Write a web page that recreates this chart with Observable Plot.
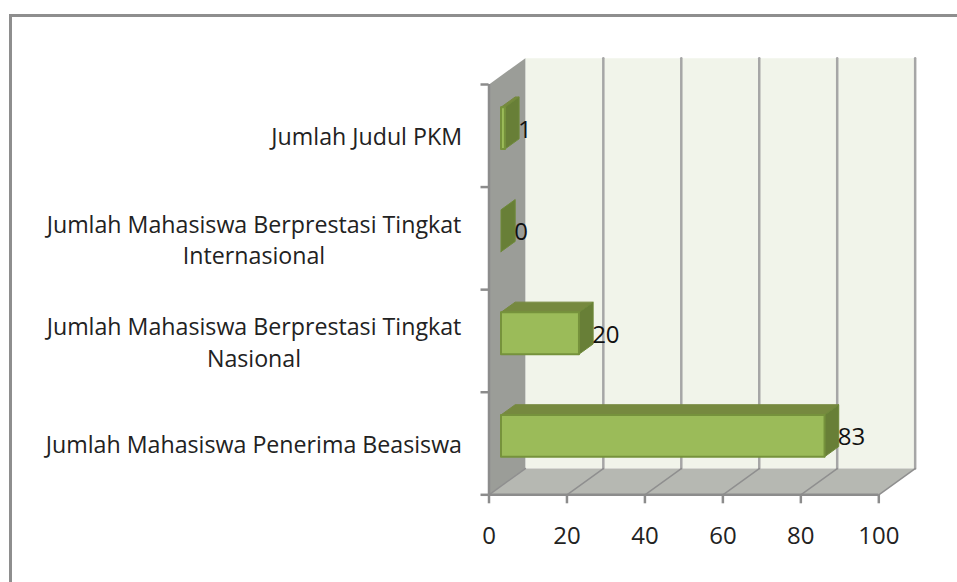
<!DOCTYPE html>
<html>
<head>
<meta charset="utf-8">
<script src="https://cdn.jsdelivr.net/npm/d3@7"></script>
<script src="https://cdn.jsdelivr.net/npm/@observablehq/plot@0.6"></script>
<style>
html,body{margin:0;padding:0;background:#fff;overflow:hidden;}
#wrap{position:relative;width:957px;height:582px;}
#wrap svg{display:block;position:absolute;left:0;top:0;}
#border{position:absolute;left:9px;top:14px;right:0;bottom:0;border-left:3px solid #8e8e8e;border-top:3px solid #8e8e8e;}
</style>
</head>
<body>
<div id="wrap"><div id="border"></div></div>
<script>
// Values, bottom to top
const categories = [
  "Jumlah Mahasiswa Penerima Beasiswa",
  "Jumlah Mahasiswa Berprestasi Tingkat\nNasional",
  "Jumlah Mahasiswa Berprestasi Tingkat\nInternasional",
  "Jumlah Judul PKM"
];
const values = [83, 20, 0, 1];
const xTicks = [0, 20, 40, 60, 80, 100];
const yTicks = [0, 1, 2, 3, 4];

// Oblique depth of the 3D box, in data units of each axis
const depthX = 9.33, depthY = 0.256;
const barFront = 0.33, barBack = 0.72, barHalf = 0.204, barCentre = 0.49;
const xMax = 100, yMax = categories.length;

const pt = (v, u, d) => ({x: v + d * depthX, y: u + d * depthY});
const poly = (id, corners) => [...corners, corners[0]].map(([v, u, d]) => ({id, ...pt(v, u, d)}));

const leftWall = poly("l", [[0,0,0],[0,yMax,0],[0,yMax,1],[0,0,1]]);
const floor = poly("f", [[0,0,0],[xMax,0,0],[xMax,0,1],[0,0,1]]);
const backWall = poly("b", [[0,0,1],[xMax,0,1],[xMax,yMax,1],[0,yMax,1]]);
const gridBack = xTicks.slice(1).flatMap(t => [pt(t,0,1), pt(t,yMax,1)].map(p => ({id:t, ...p})));
const gridFloor = xTicks.map(t => [pt(t,0,0), pt(t,0,1)].map(p => ({id:t, ...p}))).flat();

const fronts = [], tops = [], sides = [];
values.forEach((v, i) => {
  const lo = i + barCentre - barHalf, hi = i + barCentre + barHalf;
  if (v > 0) {
    fronts.push(...poly(i, [[0,lo,barFront],[v,lo,barFront],[v,hi,barFront],[0,hi,barFront]]));
    tops.push(...poly(i, [[0,hi,barFront],[v,hi,barFront],[v,hi,barBack],[0,hi,barBack]]));
  }
  sides.push(...poly(i, [[v,lo,barFront],[v,lo,barBack],[v,hi,barBack],[v,hi,barFront]]));
});
const valueLabels = values.map((v, i) => ({v, ...pt(v, i + 0.5, barBack)}));
const catRows = categories.map((label, i) => ({label, y: i + 0.5}));

const font = "Open Sans";
const labelSize = 23.2;
const chart = Plot.plot({
  width: 957, height: 582,
  marginLeft: 488.5, marginRight: 78.7, marginTop: 84, marginBottom: 87.7,
  style: {background: "transparent", fontFamily: font, overflow: "visible"},
  x: {domain: [0, xMax]},
  y: {domain: [0, yMax]},
  marks: [
    Plot.line(backWall, {x:"x", y:"y", z:"id", fill:"#f1f4ea", stroke:"none"}),
    Plot.line(leftWall, {x:"x", y:"y", z:"id", fill:"#9b9d98", stroke:"none"}),
    Plot.line(floor, {x:"x", y:"y", z:"id", fill:"#b6b8b2", stroke:"none"}),
    Plot.line(gridBack, {x:"x", y:"y", z:"id", stroke:"#a6a6a6", strokeWidth:2.5}),
    Plot.line(gridFloor, {x:"x", y:"y", z:"id", stroke:"#8f8f8f", strokeWidth:1.5}),
    Plot.ruleY([0], {stroke:"#8c8c8c", strokeWidth:2.5}),
    Plot.ruleX([0], {stroke:"#8c8c8c", strokeWidth:2.5}),
    Plot.axisX({ticks:xTicks, anchor:"bottom", tickSize:9, tickPadding:23, label:null, stroke:"#8c8c8c", strokeWidth:2.5, fill:"#222", fontSize:24}),
    Plot.axisY({ticks:yTicks, anchor:"left", tickSize:8, tickFormat:() => "", label:null, stroke:"#8c8c8c", strokeWidth:2.5}),
    Plot.line(tops, {x:"x", y:"y", z:"id", fill:"#76893f", stroke:"#76893f", strokeWidth:1}),
    Plot.line(sides, {x:"x", y:"y", z:"id", fill:"#687f37", stroke:"#6f8a3a", strokeWidth:1}),
    Plot.line(fronts, {x:"x", y:"y", z:"id", fill:"#9bbb59", stroke:"#76923c", strokeWidth:2}),
    Plot.text(valueLabels, {x:"x", y:"y", text:"v", textAnchor:"start", dx:-1, dy:13, fontSize:24, fill:"#111"}),
    Plot.text(catRows.filter(d => !d.label.includes("\n")), {x:()=>0, y:"y", text:"label", textAnchor:"end", dx:-27, dy:2, fontSize:labelSize, fill:"#222"}),
    Plot.text(catRows.filter(d => d.label.includes("\n")), {x:()=>0, y:"y", text:"label", textAnchor:"middle", dx:-235, dy:0, lineHeight:1.36, fontSize:labelSize, fill:"#222"})
  ]
});
document.getElementById("wrap").appendChild(chart);
</script>
</body>
</html>
